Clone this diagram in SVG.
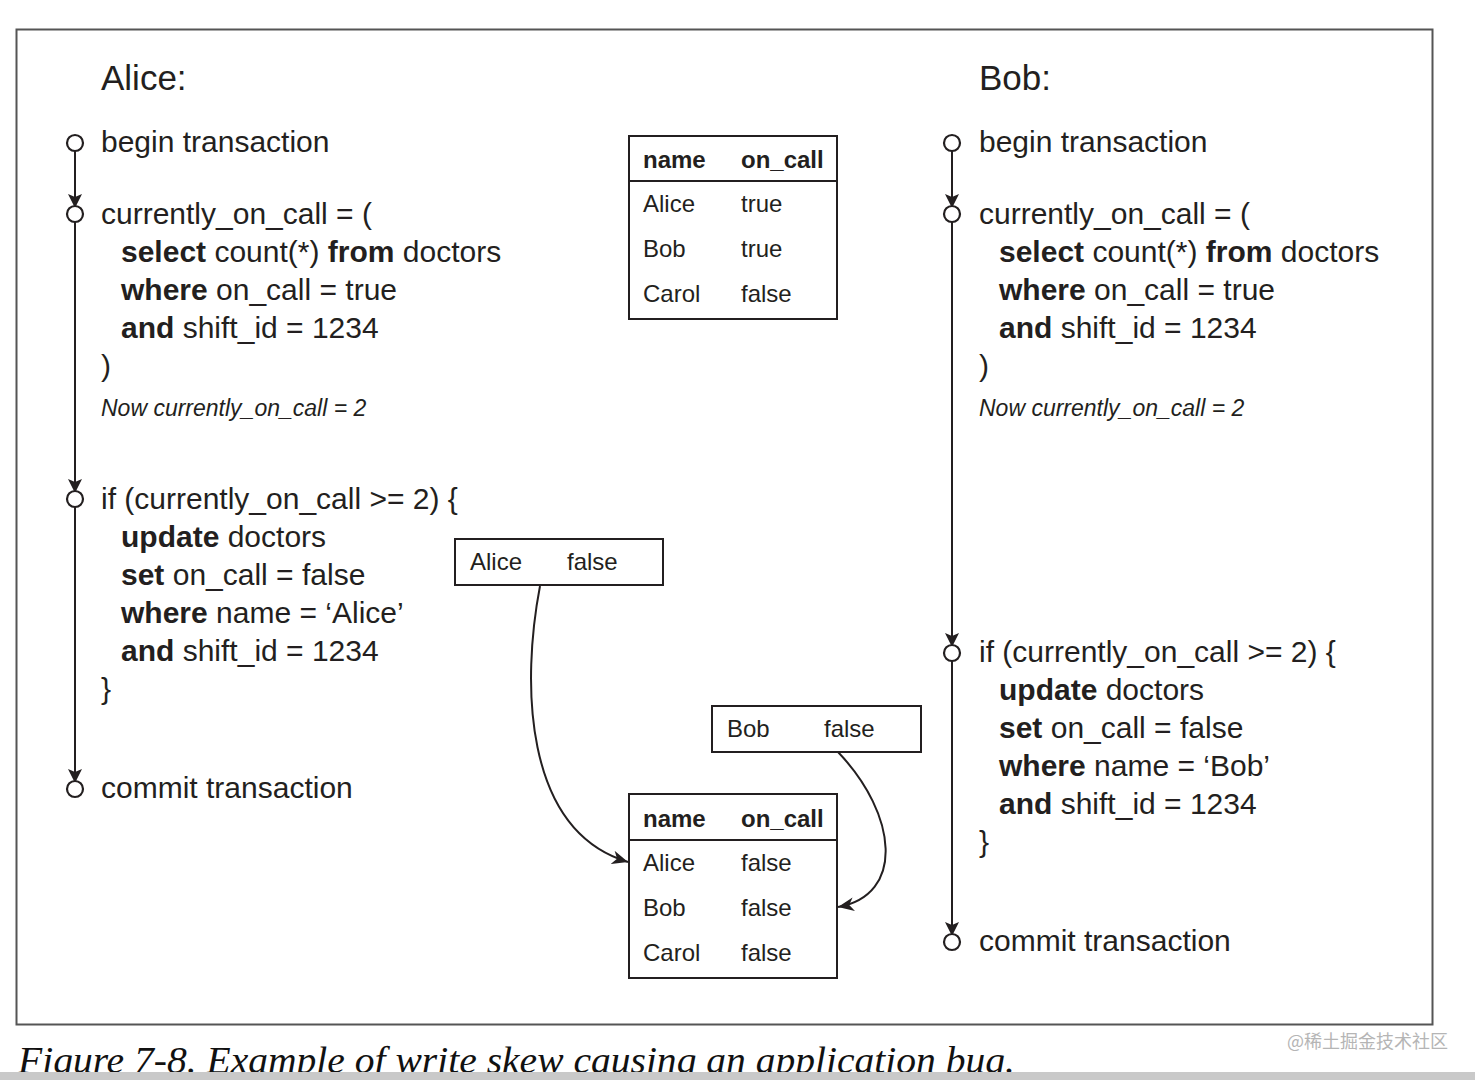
<svg xmlns="http://www.w3.org/2000/svg" width="1475" height="1080" viewBox="0 0 1475 1080">
<defs>
<style>
.t{font-family:"Liberation Sans",Arial,sans-serif;font-size:30px;fill:#231f20}
.h{font-family:"Liberation Sans",Arial,sans-serif;font-size:35px;fill:#231f20}
.i{font-family:"Liberation Sans",Arial,sans-serif;font-size:23px;font-style:italic;fill:#231f20}
.tb{font-family:"Liberation Sans",Arial,sans-serif;font-size:24px;fill:#231f20}
.b{font-weight:bold}
.box{fill:#fff;stroke:#231f20;stroke-width:2}
.ln{stroke:#231f20;stroke-width:2;fill:none}
.dot{fill:#fff;stroke:#231f20;stroke-width:2.2}
.cap{font-family:"Liberation Serif","Times New Roman",serif;font-size:38px;font-style:italic;fill:#111}
.wm{font-family:"Noto Sans CJK SC",sans-serif;font-size:18px;fill:#b5b5b5}
</style>
<marker id="ah" viewBox="0 0 14 14" refX="13" refY="7" markerWidth="14" markerHeight="14" markerUnits="userSpaceOnUse" orient="auto">
<path d="M0,0 L14,7 L0,14 L3,7 z" fill="#231f20"/>
</marker>
<marker id="ac" viewBox="0 0 14 12" refX="14" refY="6" markerWidth="16" markerHeight="14" markerUnits="userSpaceOnUse" orient="auto">
<path d="M0,0 L14,6 L0,12 L4,6 z" fill="#231f20"/>
</marker>
</defs>
<rect width="1475" height="1080" fill="#fff"/>
<rect x="16.5" y="29.5" width="1416" height="995" fill="#fff" stroke="#555" stroke-width="2"/>

<g id="connectors">
<line class="ln" x1="75" y1="151" x2="75" y2="207" marker-end="url(#ah)"/>
<line class="ln" x1="75" y1="222" x2="75" y2="492" marker-end="url(#ah)"/>
<line class="ln" x1="75" y1="507" x2="75" y2="782" marker-end="url(#ah)"/>
<line class="ln" x1="952" y1="151" x2="952" y2="207" marker-end="url(#ah)"/>
<line class="ln" x1="952" y1="222" x2="952" y2="646" marker-end="url(#ah)"/>
<line class="ln" x1="952" y1="661" x2="952" y2="935" marker-end="url(#ah)"/>
<path class="ln" d="M540,586 C522,680 522,830 628,862" marker-end="url(#ac)"/>
<path class="ln" d="M838,752 C898,815 905,895 838,907" marker-end="url(#ac)"/>
</g>

<g id="alice">
<text class="h" x="101" y="90">Alice:</text>
<circle class="dot" cx="75" cy="143" r="8"/>
<circle class="dot" cx="75" cy="214" r="8"/>
<circle class="dot" cx="75" cy="499" r="8"/>
<circle class="dot" cx="75" cy="789" r="8"/>
<text class="t" x="101" y="152">begin transaction</text>
<text class="t" x="101" y="224">currently_on_call = (</text>
<text class="t" x="121" y="262"><tspan class="b">select</tspan> count(*) <tspan class="b">from</tspan> doctors</text>
<text class="t" x="121" y="300"><tspan class="b">where</tspan> on_call = true</text>
<text class="t" x="121" y="338"><tspan class="b">and</tspan> shift_id = 1234</text>
<text class="t" x="101" y="376">)</text>
<text class="i" x="101" y="416">Now currently_on_call = 2</text>
<text class="t" x="101" y="509">if (currently_on_call &gt;= 2) {</text>
<text class="t" x="121" y="547"><tspan class="b">update</tspan> doctors</text>
<text class="t" x="121" y="585"><tspan class="b">set</tspan> on_call = false</text>
<text class="t" x="121" y="623"><tspan class="b">where</tspan> name = ‘Alice’</text>
<text class="t" x="121" y="661"><tspan class="b">and</tspan> shift_id = 1234</text>
<text class="t" x="101" y="699">}</text>
<text class="t" x="101" y="798">commit transaction</text>
</g>

<g id="bob">
<text class="h" x="979" y="90">Bob:</text>
<circle class="dot" cx="952" cy="143" r="8"/>
<circle class="dot" cx="952" cy="214" r="8"/>
<circle class="dot" cx="952" cy="653" r="8"/>
<circle class="dot" cx="952" cy="942" r="8"/>
<text class="t" x="979" y="152">begin transaction</text>
<text class="t" x="979" y="224">currently_on_call = (</text>
<text class="t" x="999" y="262"><tspan class="b">select</tspan> count(*) <tspan class="b">from</tspan> doctors</text>
<text class="t" x="999" y="300"><tspan class="b">where</tspan> on_call = true</text>
<text class="t" x="999" y="338"><tspan class="b">and</tspan> shift_id = 1234</text>
<text class="t" x="979" y="376">)</text>
<text class="i" x="979" y="416">Now currently_on_call = 2</text>
<text class="t" x="979" y="662">if (currently_on_call &gt;= 2) {</text>
<text class="t" x="999" y="700"><tspan class="b">update</tspan> doctors</text>
<text class="t" x="999" y="738"><tspan class="b">set</tspan> on_call = false</text>
<text class="t" x="999" y="776"><tspan class="b">where</tspan> name = ‘Bob’</text>
<text class="t" x="999" y="814"><tspan class="b">and</tspan> shift_id = 1234</text>
<text class="t" x="979" y="852">}</text>
<text class="t" x="979" y="951">commit transaction</text>
</g>

<g id="table-before">
<rect class="box" x="629" y="136" width="208" height="183"/>
<line class="ln" x1="629" y1="181" x2="837" y2="181"/>
<text class="tb b" x="643" y="168">name</text>
<text class="tb b" x="741" y="168">on_call</text>
<text class="tb" x="643" y="212">Alice</text><text class="tb" x="741" y="212">true</text>
<text class="tb" x="643" y="257">Bob</text><text class="tb" x="741" y="257">true</text>
<text class="tb" x="643" y="302">Carol</text><text class="tb" x="741" y="302">false</text>
</g>

<g id="alice-write">
<rect class="box" x="455" y="539" width="208" height="46"/>
<text class="tb" x="470" y="570">Alice</text><text class="tb" x="567" y="570">false</text>
</g>

<g id="bob-write">
<rect class="box" x="712" y="706" width="209" height="46"/>
<text class="tb" x="727" y="737">Bob</text><text class="tb" x="824" y="737">false</text>
</g>

<g id="table-after">
<rect class="box" x="629" y="794" width="208" height="184"/>
<line class="ln" x1="629" y1="840" x2="837" y2="840"/>
<text class="tb b" x="643" y="827">name</text>
<text class="tb b" x="741" y="827">on_call</text>
<text class="tb" x="643" y="871">Alice</text><text class="tb" x="741" y="871">false</text>
<text class="tb" x="643" y="916">Bob</text><text class="tb" x="741" y="916">false</text>
<text class="tb" x="643" y="961">Carol</text><text class="tb" x="741" y="961">false</text>
</g>

<text class="wm" x="1287" y="1048">@稀土掘金技术社区</text>
<text class="cap" x="18" y="1073" textLength="997" lengthAdjust="spacingAndGlyphs">Figure 7-8. Example of write skew causing an application bug.</text>
<rect x="0" y="1072" width="1475" height="8" fill="#c9c9c9"/>
</svg>
